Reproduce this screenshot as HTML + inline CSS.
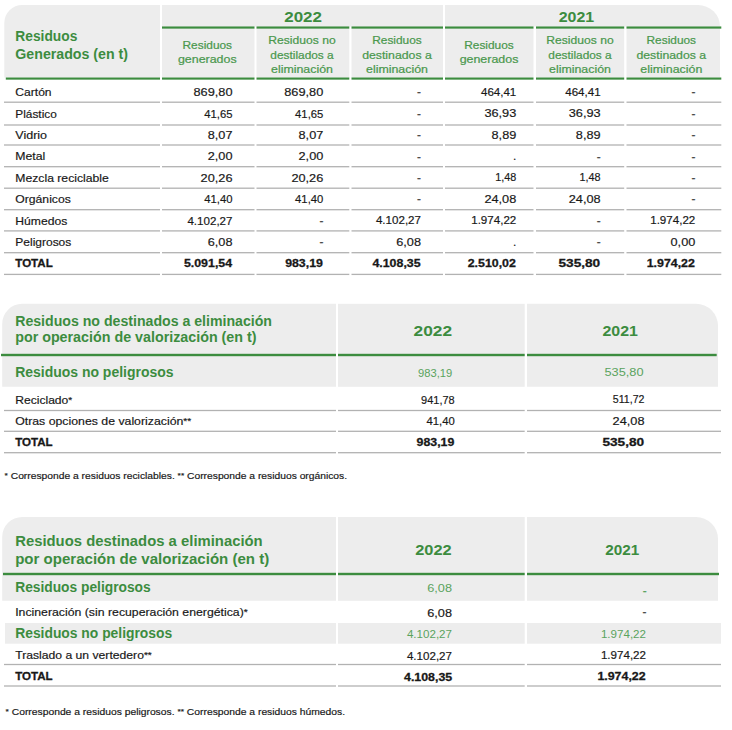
<!DOCTYPE html>
<html lang="es">
<head>
<meta charset="utf-8">
<title>Residuos generados</title>
<style>
html,body{margin:0;padding:0;background:#fff}
body{width:732px;height:730px;overflow:hidden}
svg{display:block;font-family:"Liberation Sans", Arial, sans-serif}
text{white-space:pre}
</style>
</head>
<body>
<svg width="732" height="730" viewBox="0 0 732 730">
<g role="table" aria-label="Residuos Generados (en t)">
<path d="M4.3 77.6V23A18 18 0 0 1 22.3 5H160V77.6Z" fill="#ededed"/>
<rect x="162" y="5" width="281" height="21.6" fill="#ededed"/>
<path d="M445 26.6V5H698A22 21.6 0 0 1 720 26.6V26.6Z" fill="#ededed"/>
<rect x="162" y="28.5" width="92.5" height="49.1" fill="#ededed"/>
<rect x="256.5" y="28.5" width="92.8" height="49.1" fill="#ededed"/>
<rect x="351.5" y="28.5" width="91.5" height="49.1" fill="#ededed"/>
<rect x="445" y="28.5" width="88.5" height="49.1" fill="#ededed"/>
<rect x="536" y="28.5" width="88.2" height="49.1" fill="#ededed"/>
<rect x="626.5" y="28.5" width="93.5" height="49.1" fill="#ededed"/>
<rect x="5.8" y="77.5" width="154.2" height="2.15" fill="#3c8c3f"/>
<rect x="162" y="26.45" width="92.5" height="2.2" fill="#3c8c3f"/>
<rect x="162" y="77.5" width="92.5" height="2.15" fill="#3c8c3f"/>
<rect x="256.5" y="26.45" width="92.8" height="2.2" fill="#3c8c3f"/>
<rect x="256.5" y="77.5" width="92.8" height="2.15" fill="#3c8c3f"/>
<rect x="351.5" y="26.45" width="91.5" height="2.2" fill="#3c8c3f"/>
<rect x="351.5" y="77.5" width="91.5" height="2.15" fill="#3c8c3f"/>
<rect x="445" y="26.45" width="88.5" height="2.2" fill="#3c8c3f"/>
<rect x="445" y="77.5" width="88.5" height="2.15" fill="#3c8c3f"/>
<rect x="536" y="26.45" width="88.2" height="2.2" fill="#3c8c3f"/>
<rect x="536" y="77.5" width="88.2" height="2.15" fill="#3c8c3f"/>
<rect x="626.5" y="26.45" width="94.8" height="2.2" fill="#3c8c3f"/>
<rect x="626.5" y="77.5" width="94.8" height="2.15" fill="#3c8c3f"/>
<text x="15.3" y="40.8" font-size="14" fill="#3c8c3f" font-weight="700" textLength="62" lengthAdjust="spacingAndGlyphs">Residuos</text>
<text x="15.3" y="59.2" font-size="14" fill="#3c8c3f" font-weight="700" textLength="112.7" lengthAdjust="spacingAndGlyphs">Generados (en t)</text>
<text x="303.1" y="21.8" font-size="15.5" fill="#3c8c3f" text-anchor="middle" font-weight="700" textLength="37.8" lengthAdjust="spacingAndGlyphs">2022</text>
<text x="576.4" y="21.8" font-size="15.5" fill="#3c8c3f" text-anchor="middle" font-weight="700" textLength="35.5" lengthAdjust="spacingAndGlyphs">2021</text>
<text x="207.3" y="49.4" font-size="11.2" fill="#4a984d" stroke="#4a984d" stroke-width="0.22" text-anchor="middle" textLength="49.5" lengthAdjust="spacingAndGlyphs">Residuos</text>
<text x="207.3" y="63.4" font-size="11.2" fill="#4a984d" stroke="#4a984d" stroke-width="0.22" text-anchor="middle" textLength="58.7" lengthAdjust="spacingAndGlyphs">generados</text>
<text x="302" y="44.3" font-size="11.2" fill="#4a984d" stroke="#4a984d" stroke-width="0.22" text-anchor="middle" textLength="67.3" lengthAdjust="spacingAndGlyphs">Residuos no</text>
<text x="302" y="58.7" font-size="11.2" fill="#4a984d" stroke="#4a984d" stroke-width="0.22" text-anchor="middle" textLength="63.4" lengthAdjust="spacingAndGlyphs">destilados a</text>
<text x="302" y="72.9" font-size="11.2" fill="#4a984d" stroke="#4a984d" stroke-width="0.22" text-anchor="middle" textLength="62" lengthAdjust="spacingAndGlyphs">eliminación</text>
<text x="397" y="44.3" font-size="11.2" fill="#4a984d" stroke="#4a984d" stroke-width="0.22" text-anchor="middle" textLength="49.5" lengthAdjust="spacingAndGlyphs">Residuos</text>
<text x="397" y="58.7" font-size="11.2" fill="#4a984d" stroke="#4a984d" stroke-width="0.22" text-anchor="middle" textLength="69.7" lengthAdjust="spacingAndGlyphs">destinados a</text>
<text x="397" y="72.9" font-size="11.2" fill="#4a984d" stroke="#4a984d" stroke-width="0.22" text-anchor="middle" textLength="62" lengthAdjust="spacingAndGlyphs">eliminación</text>
<text x="489" y="49.4" font-size="11.2" fill="#4a984d" stroke="#4a984d" stroke-width="0.22" text-anchor="middle" textLength="49.5" lengthAdjust="spacingAndGlyphs">Residuos</text>
<text x="489" y="63.4" font-size="11.2" fill="#4a984d" stroke="#4a984d" stroke-width="0.22" text-anchor="middle" textLength="58.7" lengthAdjust="spacingAndGlyphs">generados</text>
<text x="580" y="44.3" font-size="11.2" fill="#4a984d" stroke="#4a984d" stroke-width="0.22" text-anchor="middle" textLength="67.3" lengthAdjust="spacingAndGlyphs">Residuos no</text>
<text x="580" y="58.7" font-size="11.2" fill="#4a984d" stroke="#4a984d" stroke-width="0.22" text-anchor="middle" textLength="63.4" lengthAdjust="spacingAndGlyphs">destilados a</text>
<text x="580" y="72.9" font-size="11.2" fill="#4a984d" stroke="#4a984d" stroke-width="0.22" text-anchor="middle" textLength="62" lengthAdjust="spacingAndGlyphs">eliminación</text>
<text x="671.3" y="44.3" font-size="11.2" fill="#4a984d" stroke="#4a984d" stroke-width="0.22" text-anchor="middle" textLength="49.5" lengthAdjust="spacingAndGlyphs">Residuos</text>
<text x="671.3" y="58.7" font-size="11.2" fill="#4a984d" stroke="#4a984d" stroke-width="0.22" text-anchor="middle" textLength="69.7" lengthAdjust="spacingAndGlyphs">destinados a</text>
<text x="671.3" y="72.9" font-size="11.2" fill="#4a984d" stroke="#4a984d" stroke-width="0.22" text-anchor="middle" textLength="62" lengthAdjust="spacingAndGlyphs">eliminación</text>
<g role="row">
<text x="15.3" y="96" font-size="11.6" fill="#181818" stroke="#181818" stroke-width="0.18" textLength="36.3" lengthAdjust="spacingAndGlyphs">Cartón</text>
<text x="232.5" y="96" font-size="11.6" fill="#181818" stroke="#181818" stroke-width="0.18" text-anchor="end" textLength="39.02" lengthAdjust="spacingAndGlyphs">869,80</text>
<text x="323.3" y="96" font-size="11.6" fill="#181818" stroke="#181818" stroke-width="0.18" text-anchor="end" textLength="39.02" lengthAdjust="spacingAndGlyphs">869,80</text>
<text x="421" y="96.4" font-size="12" fill="#4a4a4a" stroke="#4a4a4a" stroke-width="0.25" text-anchor="end" textLength="3.9" lengthAdjust="spacingAndGlyphs">-</text>
<text x="516.3" y="95.8" font-size="11.6" fill="#181818" stroke="#181818" stroke-width="0.18" text-anchor="end" textLength="35.33" lengthAdjust="spacingAndGlyphs">464,41</text>
<text x="600.6" y="95.8" font-size="11.6" fill="#181818" stroke="#181818" stroke-width="0.18" text-anchor="end" textLength="35.33" lengthAdjust="spacingAndGlyphs">464,41</text>
<text x="695.3" y="96.4" font-size="12" fill="#4a4a4a" stroke="#4a4a4a" stroke-width="0.25" text-anchor="end" textLength="3.9" lengthAdjust="spacingAndGlyphs">-</text>
<rect x="4" y="101.55" width="156" height="1.3" fill="#b2b2b2"/>
<rect x="162" y="101.55" width="92.5" height="1.3" fill="#b2b2b2"/>
<rect x="256.5" y="101.55" width="92.8" height="1.3" fill="#b2b2b2"/>
<rect x="351.5" y="101.55" width="91.5" height="1.3" fill="#b2b2b2"/>
<rect x="445" y="101.55" width="88.5" height="1.3" fill="#b2b2b2"/>
<rect x="536" y="101.55" width="88.2" height="1.3" fill="#b2b2b2"/>
<rect x="626.5" y="101.55" width="94.8" height="1.3" fill="#b2b2b2"/>
</g>
<g role="row">
<text x="15.3" y="117.6" font-size="11.6" fill="#181818" stroke="#181818" stroke-width="0.18" textLength="41.5" lengthAdjust="spacingAndGlyphs">Plástico</text>
<text x="232.5" y="117.6" font-size="11.6" fill="#181818" stroke="#181818" stroke-width="0.18" text-anchor="end" textLength="28.19" lengthAdjust="spacingAndGlyphs">41,65</text>
<text x="323.3" y="117.6" font-size="11.6" fill="#181818" stroke="#181818" stroke-width="0.18" text-anchor="end" textLength="28.19" lengthAdjust="spacingAndGlyphs">41,65</text>
<text x="421" y="117.8" font-size="12" fill="#4a4a4a" stroke="#4a4a4a" stroke-width="0.25" text-anchor="end" textLength="3.9" lengthAdjust="spacingAndGlyphs">-</text>
<text x="516.3" y="117.2" font-size="11.6" fill="#181818" stroke="#181818" stroke-width="0.18" text-anchor="end" textLength="31.88" lengthAdjust="spacingAndGlyphs">36,93</text>
<text x="600.6" y="117.2" font-size="11.6" fill="#181818" stroke="#181818" stroke-width="0.18" text-anchor="end" textLength="31.88" lengthAdjust="spacingAndGlyphs">36,93</text>
<text x="695.3" y="117.8" font-size="12" fill="#4a4a4a" stroke="#4a4a4a" stroke-width="0.25" text-anchor="end" textLength="3.9" lengthAdjust="spacingAndGlyphs">-</text>
<rect x="4" y="124.35" width="156" height="1.3" fill="#b2b2b2"/>
<rect x="162" y="124.35" width="92.5" height="1.3" fill="#b2b2b2"/>
<rect x="256.5" y="124.35" width="92.8" height="1.3" fill="#b2b2b2"/>
<rect x="351.5" y="124.35" width="91.5" height="1.3" fill="#b2b2b2"/>
<rect x="445" y="124.35" width="88.5" height="1.3" fill="#b2b2b2"/>
<rect x="536" y="124.35" width="88.2" height="1.3" fill="#b2b2b2"/>
<rect x="626.5" y="124.35" width="94.8" height="1.3" fill="#b2b2b2"/>
</g>
<g role="row">
<text x="15.3" y="138.8" font-size="11.6" fill="#181818" stroke="#181818" stroke-width="0.18" textLength="31.8" lengthAdjust="spacingAndGlyphs">Vidrio</text>
<text x="232.5" y="138.8" font-size="11.6" fill="#181818" stroke="#181818" stroke-width="0.18" text-anchor="end" textLength="24.74" lengthAdjust="spacingAndGlyphs">8,07</text>
<text x="323.3" y="138.8" font-size="11.6" fill="#181818" stroke="#181818" stroke-width="0.18" text-anchor="end" textLength="24.74" lengthAdjust="spacingAndGlyphs">8,07</text>
<text x="421" y="139.2" font-size="12" fill="#4a4a4a" stroke="#4a4a4a" stroke-width="0.25" text-anchor="end" textLength="3.9" lengthAdjust="spacingAndGlyphs">-</text>
<text x="516.3" y="138.6" font-size="11.6" fill="#181818" stroke="#181818" stroke-width="0.18" text-anchor="end" textLength="24.74" lengthAdjust="spacingAndGlyphs">8,89</text>
<text x="600.6" y="138.6" font-size="11.6" fill="#181818" stroke="#181818" stroke-width="0.18" text-anchor="end" textLength="24.74" lengthAdjust="spacingAndGlyphs">8,89</text>
<text x="695.3" y="139.2" font-size="12" fill="#4a4a4a" stroke="#4a4a4a" stroke-width="0.25" text-anchor="end" textLength="3.9" lengthAdjust="spacingAndGlyphs">-</text>
<rect x="4" y="144.35" width="156" height="1.3" fill="#b2b2b2"/>
<rect x="162" y="144.35" width="92.5" height="1.3" fill="#b2b2b2"/>
<rect x="256.5" y="144.35" width="92.8" height="1.3" fill="#b2b2b2"/>
<rect x="351.5" y="144.35" width="91.5" height="1.3" fill="#b2b2b2"/>
<rect x="445" y="144.35" width="88.5" height="1.3" fill="#b2b2b2"/>
<rect x="536" y="144.35" width="88.2" height="1.3" fill="#b2b2b2"/>
<rect x="626.5" y="144.35" width="94.8" height="1.3" fill="#b2b2b2"/>
</g>
<g role="row">
<text x="15.3" y="160.2" font-size="11.6" fill="#181818" stroke="#181818" stroke-width="0.18" textLength="30" lengthAdjust="spacingAndGlyphs">Metal</text>
<text x="232.5" y="160.2" font-size="11.6" fill="#181818" stroke="#181818" stroke-width="0.18" text-anchor="end" textLength="24.74" lengthAdjust="spacingAndGlyphs">2,00</text>
<text x="323.3" y="160.2" font-size="11.6" fill="#181818" stroke="#181818" stroke-width="0.18" text-anchor="end" textLength="24.74" lengthAdjust="spacingAndGlyphs">2,00</text>
<text x="421" y="160.6" font-size="12" fill="#4a4a4a" stroke="#4a4a4a" stroke-width="0.25" text-anchor="end" textLength="3.9" lengthAdjust="spacingAndGlyphs">-</text>
<text x="516.3" y="160" font-size="11.6" fill="#181818" stroke="#181818" stroke-width="0.18" text-anchor="end" textLength="3.32" lengthAdjust="spacingAndGlyphs">.</text>
<text x="600.6" y="160.6" font-size="12" fill="#4a4a4a" stroke="#4a4a4a" stroke-width="0.25" text-anchor="end" textLength="3.9" lengthAdjust="spacingAndGlyphs">-</text>
<text x="695.3" y="160.6" font-size="12" fill="#4a4a4a" stroke="#4a4a4a" stroke-width="0.25" text-anchor="end" textLength="3.9" lengthAdjust="spacingAndGlyphs">-</text>
<rect x="4" y="166.05" width="156" height="1.3" fill="#b2b2b2"/>
<rect x="162" y="166.05" width="92.5" height="1.3" fill="#b2b2b2"/>
<rect x="256.5" y="166.05" width="92.8" height="1.3" fill="#b2b2b2"/>
<rect x="351.5" y="166.05" width="91.5" height="1.3" fill="#b2b2b2"/>
<rect x="445" y="166.05" width="88.5" height="1.3" fill="#b2b2b2"/>
<rect x="536" y="166.05" width="88.2" height="1.3" fill="#b2b2b2"/>
<rect x="626.5" y="166.05" width="94.8" height="1.3" fill="#b2b2b2"/>
</g>
<g role="row">
<text x="15.3" y="181.7" font-size="11.6" fill="#181818" stroke="#181818" stroke-width="0.18" textLength="93.5" lengthAdjust="spacingAndGlyphs">Mezcla reciclable</text>
<text x="232.5" y="181.7" font-size="11.6" fill="#181818" stroke="#181818" stroke-width="0.18" text-anchor="end" textLength="31.88" lengthAdjust="spacingAndGlyphs">20,26</text>
<text x="323.3" y="181.7" font-size="11.6" fill="#181818" stroke="#181818" stroke-width="0.18" text-anchor="end" textLength="31.88" lengthAdjust="spacingAndGlyphs">20,26</text>
<text x="421" y="182" font-size="12" fill="#4a4a4a" stroke="#4a4a4a" stroke-width="0.25" text-anchor="end" textLength="3.9" lengthAdjust="spacingAndGlyphs">-</text>
<text x="516.3" y="181.4" font-size="11.6" fill="#181818" stroke="#181818" stroke-width="0.18" text-anchor="end" textLength="21.05" lengthAdjust="spacingAndGlyphs">1,48</text>
<text x="600.6" y="181.4" font-size="11.6" fill="#181818" stroke="#181818" stroke-width="0.18" text-anchor="end" textLength="21.05" lengthAdjust="spacingAndGlyphs">1,48</text>
<text x="695.3" y="182" font-size="12" fill="#4a4a4a" stroke="#4a4a4a" stroke-width="0.25" text-anchor="end" textLength="3.9" lengthAdjust="spacingAndGlyphs">-</text>
<rect x="4" y="187.55" width="156" height="1.3" fill="#b2b2b2"/>
<rect x="162" y="187.55" width="92.5" height="1.3" fill="#b2b2b2"/>
<rect x="256.5" y="187.55" width="92.8" height="1.3" fill="#b2b2b2"/>
<rect x="351.5" y="187.55" width="91.5" height="1.3" fill="#b2b2b2"/>
<rect x="445" y="187.55" width="88.5" height="1.3" fill="#b2b2b2"/>
<rect x="536" y="187.55" width="88.2" height="1.3" fill="#b2b2b2"/>
<rect x="626.5" y="187.55" width="94.8" height="1.3" fill="#b2b2b2"/>
</g>
<g role="row">
<text x="15.3" y="203.2" font-size="11.6" fill="#181818" stroke="#181818" stroke-width="0.18" textLength="55.5" lengthAdjust="spacingAndGlyphs">Orgánicos</text>
<text x="232.5" y="203.2" font-size="11.6" fill="#181818" stroke="#181818" stroke-width="0.18" text-anchor="end" textLength="28.19" lengthAdjust="spacingAndGlyphs">41,40</text>
<text x="323.3" y="203.2" font-size="11.6" fill="#181818" stroke="#181818" stroke-width="0.18" text-anchor="end" textLength="28.19" lengthAdjust="spacingAndGlyphs">41,40</text>
<text x="421" y="203.4" font-size="12" fill="#4a4a4a" stroke="#4a4a4a" stroke-width="0.25" text-anchor="end" textLength="3.9" lengthAdjust="spacingAndGlyphs">-</text>
<text x="516.3" y="202.8" font-size="11.6" fill="#181818" stroke="#181818" stroke-width="0.18" text-anchor="end" textLength="31.88" lengthAdjust="spacingAndGlyphs">24,08</text>
<text x="600.6" y="202.8" font-size="11.6" fill="#181818" stroke="#181818" stroke-width="0.18" text-anchor="end" textLength="31.88" lengthAdjust="spacingAndGlyphs">24,08</text>
<text x="695.3" y="203.4" font-size="12" fill="#4a4a4a" stroke="#4a4a4a" stroke-width="0.25" text-anchor="end" textLength="3.9" lengthAdjust="spacingAndGlyphs">-</text>
<rect x="4" y="209.05" width="156" height="1.3" fill="#b2b2b2"/>
<rect x="162" y="209.05" width="92.5" height="1.3" fill="#b2b2b2"/>
<rect x="256.5" y="209.05" width="92.8" height="1.3" fill="#b2b2b2"/>
<rect x="351.5" y="209.05" width="91.5" height="1.3" fill="#b2b2b2"/>
<rect x="445" y="209.05" width="88.5" height="1.3" fill="#b2b2b2"/>
<rect x="536" y="209.05" width="88.2" height="1.3" fill="#b2b2b2"/>
<rect x="626.5" y="209.05" width="94.8" height="1.3" fill="#b2b2b2"/>
</g>
<g role="row">
<text x="15.3" y="224.6" font-size="11.6" fill="#181818" stroke="#181818" stroke-width="0.18" textLength="52" lengthAdjust="spacingAndGlyphs">Húmedos</text>
<text x="232.5" y="224.6" font-size="11.6" fill="#181818" stroke="#181818" stroke-width="0.18" text-anchor="end" textLength="45.09" lengthAdjust="spacingAndGlyphs">4.102,27</text>
<text x="323.3" y="225.2" font-size="12" fill="#4a4a4a" stroke="#4a4a4a" stroke-width="0.25" text-anchor="end" textLength="3.9" lengthAdjust="spacingAndGlyphs">-</text>
<text x="421" y="224.2" font-size="11.6" fill="#181818" stroke="#181818" stroke-width="0.18" text-anchor="end" textLength="45.09" lengthAdjust="spacingAndGlyphs">4.102,27</text>
<text x="516.3" y="224.2" font-size="11.6" fill="#181818" stroke="#181818" stroke-width="0.18" text-anchor="end" textLength="45.09" lengthAdjust="spacingAndGlyphs">1.974,22</text>
<text x="600.6" y="224.8" font-size="12" fill="#4a4a4a" stroke="#4a4a4a" stroke-width="0.25" text-anchor="end" textLength="3.9" lengthAdjust="spacingAndGlyphs">-</text>
<text x="695.3" y="224.2" font-size="11.6" fill="#181818" stroke="#181818" stroke-width="0.18" text-anchor="end" textLength="45.09" lengthAdjust="spacingAndGlyphs">1.974,22</text>
<rect x="4" y="230.25" width="156" height="1.3" fill="#b2b2b2"/>
<rect x="162" y="230.25" width="92.5" height="1.3" fill="#b2b2b2"/>
<rect x="256.5" y="230.25" width="92.8" height="1.3" fill="#b2b2b2"/>
<rect x="351.5" y="230.25" width="91.5" height="1.3" fill="#b2b2b2"/>
<rect x="445" y="230.25" width="88.5" height="1.3" fill="#b2b2b2"/>
<rect x="536" y="230.25" width="88.2" height="1.3" fill="#b2b2b2"/>
<rect x="626.5" y="230.25" width="94.8" height="1.3" fill="#b2b2b2"/>
</g>
<g role="row">
<text x="15.3" y="245.8" font-size="11.6" fill="#181818" stroke="#181818" stroke-width="0.18" textLength="56" lengthAdjust="spacingAndGlyphs">Peligrosos</text>
<text x="232.5" y="245.8" font-size="11.6" fill="#181818" stroke="#181818" stroke-width="0.18" text-anchor="end" textLength="24.74" lengthAdjust="spacingAndGlyphs">6,08</text>
<text x="323.3" y="246.4" font-size="12" fill="#4a4a4a" stroke="#4a4a4a" stroke-width="0.25" text-anchor="end" textLength="3.9" lengthAdjust="spacingAndGlyphs">-</text>
<text x="421" y="245.6" font-size="11.6" fill="#181818" stroke="#181818" stroke-width="0.18" text-anchor="end" textLength="24.74" lengthAdjust="spacingAndGlyphs">6,08</text>
<text x="516.3" y="245.6" font-size="11.6" fill="#181818" stroke="#181818" stroke-width="0.18" text-anchor="end" textLength="3.32" lengthAdjust="spacingAndGlyphs">.</text>
<text x="600.6" y="246.2" font-size="12" fill="#4a4a4a" stroke="#4a4a4a" stroke-width="0.25" text-anchor="end" textLength="3.9" lengthAdjust="spacingAndGlyphs">-</text>
<text x="695.3" y="245.6" font-size="11.6" fill="#181818" stroke="#181818" stroke-width="0.18" text-anchor="end" textLength="24.74" lengthAdjust="spacingAndGlyphs">0,00</text>
<rect x="4" y="252.05" width="156" height="1.3" fill="#b2b2b2"/>
<rect x="162" y="252.05" width="92.5" height="1.3" fill="#b2b2b2"/>
<rect x="256.5" y="252.05" width="92.8" height="1.3" fill="#b2b2b2"/>
<rect x="351.5" y="252.05" width="91.5" height="1.3" fill="#b2b2b2"/>
<rect x="445" y="252.05" width="88.5" height="1.3" fill="#b2b2b2"/>
<rect x="536" y="252.05" width="88.2" height="1.3" fill="#b2b2b2"/>
<rect x="626.5" y="252.05" width="94.8" height="1.3" fill="#b2b2b2"/>
</g>
<g role="row">
<text x="15.3" y="267.2" font-size="11.6" fill="#181818" stroke="#181818" stroke-width="0.3" font-weight="700" textLength="37.4" lengthAdjust="spacingAndGlyphs">TOTAL</text>
<text x="232.1" y="267.2" font-size="11.6" fill="#181818" stroke="#181818" stroke-width="0.3" text-anchor="end" font-weight="700" textLength="48.19" lengthAdjust="spacingAndGlyphs">5.091,54</text>
<text x="322.9" y="267.2" font-size="11.6" fill="#181818" stroke="#181818" stroke-width="0.3" text-anchor="end" font-weight="700" textLength="37.75" lengthAdjust="spacingAndGlyphs">983,19</text>
<text x="420.6" y="267" font-size="11.6" fill="#181818" stroke="#181818" stroke-width="0.3" text-anchor="end" font-weight="700" textLength="48.19" lengthAdjust="spacingAndGlyphs">4.108,35</text>
<text x="515.9" y="267" font-size="11.6" fill="#181818" stroke="#181818" stroke-width="0.3" text-anchor="end" font-weight="700" textLength="48.19" lengthAdjust="spacingAndGlyphs">2.510,02</text>
<text x="600.2" y="267" font-size="11.6" fill="#181818" stroke="#181818" stroke-width="0.3" text-anchor="end" font-weight="700" textLength="41.7" lengthAdjust="spacingAndGlyphs">535,80</text>
<text x="694.9" y="267" font-size="11.6" fill="#181818" stroke="#181818" stroke-width="0.3" text-anchor="end" font-weight="700" textLength="48.19" lengthAdjust="spacingAndGlyphs">1.974,22</text>
<rect x="4" y="273.75" width="156" height="1.3" fill="#b2b2b2"/>
<rect x="162" y="273.75" width="92.5" height="1.3" fill="#b2b2b2"/>
<rect x="256.5" y="273.75" width="92.8" height="1.3" fill="#b2b2b2"/>
<rect x="351.5" y="273.75" width="91.5" height="1.3" fill="#b2b2b2"/>
<rect x="445" y="273.75" width="88.5" height="1.3" fill="#b2b2b2"/>
<rect x="536" y="273.75" width="88.2" height="1.3" fill="#b2b2b2"/>
<rect x="626.5" y="273.75" width="94.8" height="1.3" fill="#b2b2b2"/>
</g>
</g>
<g role="table" aria-label="Residuos no destinados a eliminación por operación de valorización (en t)">
<path d="M2.2 386.8V323.8A20 20 0 0 1 22.2 303.8H336V386.8Z" fill="#ededed"/>
<rect x="338" y="303.8" width="186.7" height="83" fill="#ededed"/>
<path d="M527 386.8V303.8H696A22 22 0 0 1 718 325.8V386.8Z" fill="#ededed"/>
<rect x="1" y="353.8" width="335" height="2.4" fill="#3c8c3f"/>
<rect x="338" y="353.8" width="186.7" height="2.4" fill="#3c8c3f"/>
<rect x="527" y="353.8" width="189.7" height="2.4" fill="#3c8c3f"/>
<text x="15.2" y="325.9" font-size="14" fill="#3c8c3f" font-weight="700" textLength="256.8" lengthAdjust="spacingAndGlyphs">Residuos no destinados a eliminación</text>
<text x="15.2" y="342.3" font-size="14" fill="#3c8c3f" font-weight="700" textLength="241.3" lengthAdjust="spacingAndGlyphs">por operación de valorización (en t)</text>
<text x="432.8" y="335.9" font-size="15.4" fill="#3c8c3f" text-anchor="middle" font-weight="700" textLength="38.5" lengthAdjust="spacingAndGlyphs">2022</text>
<text x="620.2" y="335.9" font-size="15.4" fill="#3c8c3f" text-anchor="middle" font-weight="700" textLength="35.5" lengthAdjust="spacingAndGlyphs">2021</text>
<text x="15.2" y="376.7" font-size="14" fill="#3c8c3f" font-weight="700" textLength="158.3" lengthAdjust="spacingAndGlyphs">Residuos no peligrosos</text>
<text x="452.2" y="376.5" font-size="11.6" fill="#5aa35d" text-anchor="end" textLength="34.2" lengthAdjust="spacingAndGlyphs">983,19</text>
<text x="643.5" y="376.3" font-size="11.6" fill="#5aa35d" text-anchor="end" textLength="39.02" lengthAdjust="spacingAndGlyphs">535,80</text>
<g role="row">
<text x="15.2" y="403.7" font-size="11.6" fill="#181818" stroke="#181818" stroke-width="0.18" textLength="57" lengthAdjust="spacingAndGlyphs">Reciclado<tspan font-size="9.51" dy="-0.7">*</tspan></text>
<text x="454.7" y="403.7" font-size="11.6" fill="#181818" stroke="#181818" stroke-width="0.18" text-anchor="end" textLength="33.6" lengthAdjust="spacingAndGlyphs">941,78</text>
<text x="644.5" y="403.1" font-size="11.6" fill="#181818" stroke="#181818" stroke-width="0.18" text-anchor="end" textLength="31.64" lengthAdjust="spacingAndGlyphs">511,72</text>
<rect x="4" y="409.85" width="332" height="1.3" fill="#b2b2b2"/>
<rect x="338" y="409.85" width="186.7" height="1.3" fill="#b2b2b2"/>
<rect x="527" y="409.85" width="194" height="1.3" fill="#b2b2b2"/>
</g>
<g role="row">
<text x="15.2" y="424.7" font-size="11.6" fill="#181818" stroke="#181818" stroke-width="0.18" textLength="176" lengthAdjust="spacingAndGlyphs">Otras opciones de valorización<tspan font-size="9.51" dy="-0.7">**</tspan></text>
<text x="454.7" y="424.7" font-size="11.6" fill="#181818" stroke="#181818" stroke-width="0.18" text-anchor="end" textLength="28.19" lengthAdjust="spacingAndGlyphs">41,40</text>
<text x="644.5" y="425.2" font-size="11.6" fill="#181818" stroke="#181818" stroke-width="0.18" text-anchor="end" textLength="31.88" lengthAdjust="spacingAndGlyphs">24,08</text>
<rect x="4" y="430.65" width="332" height="1.3" fill="#b2b2b2"/>
<rect x="338" y="430.65" width="186.7" height="1.3" fill="#b2b2b2"/>
<rect x="527" y="430.65" width="194" height="1.3" fill="#b2b2b2"/>
</g>
<g role="row">
<text x="15.2" y="445.8" font-size="11.6" fill="#181818" stroke="#181818" stroke-width="0.3" font-weight="700" textLength="37.4" lengthAdjust="spacingAndGlyphs">TOTAL</text>
<text x="454.3" y="445.8" font-size="11.6" fill="#181818" stroke="#181818" stroke-width="0.3" text-anchor="end" font-weight="700" textLength="37.75" lengthAdjust="spacingAndGlyphs">983,19</text>
<text x="644.1" y="446.3" font-size="11.6" fill="#181818" stroke="#181818" stroke-width="0.3" text-anchor="end" font-weight="700" textLength="41.7" lengthAdjust="spacingAndGlyphs">535,80</text>
<rect x="4" y="452.05" width="332" height="1.3" fill="#b2b2b2"/>
<rect x="338" y="452.05" width="186.7" height="1.3" fill="#b2b2b2"/>
<rect x="527" y="452.05" width="194" height="1.3" fill="#b2b2b2"/>
</g>
</g>
<text x="4.6" y="478.7" font-size="9.5" fill="#181818" stroke="#181818" stroke-width="0.18" textLength="342.5" lengthAdjust="spacingAndGlyphs"><tspan font-size="7.79" dy="-0.57">*</tspan><tspan dy="0.57"> Corresponde a residuos reciclables. </tspan><tspan font-size="7.79" dy="-0.57">**</tspan><tspan dy="0.57"> Corresponde a residuos orgánicos.</tspan></text>
<g role="table" aria-label="Residuos destinados a eliminación por operación de valorización (en t)">
<path d="M2.2 600.8V537A20 20 0 0 1 22.2 517H336V600.8Z" fill="#ededed"/>
<rect x="338" y="517" width="186.7" height="83.8" fill="#ededed"/>
<path d="M527 600.8V517H696A22 22 0 0 1 718 539V600.8Z" fill="#ededed"/>
<rect x="3" y="572.8" width="333" height="2.4" fill="#3c8c3f"/>
<rect x="5" y="623" width="331" height="20.7" fill="#ededed"/>
<rect x="338" y="572.8" width="186.7" height="2.4" fill="#3c8c3f"/>
<rect x="338" y="623" width="186.7" height="20.7" fill="#ededed"/>
<rect x="527" y="572.8" width="192" height="2.4" fill="#3c8c3f"/>
<rect x="527" y="623" width="194" height="20.7" fill="#ededed"/>
<text x="15.2" y="545.5" font-size="15" fill="#3c8c3f" font-weight="700" textLength="247.5" lengthAdjust="spacingAndGlyphs">Residuos destinados a eliminación</text>
<text x="15.2" y="563.7" font-size="15" fill="#3c8c3f" font-weight="700" textLength="254" lengthAdjust="spacingAndGlyphs">por operación de valorización (en t)</text>
<text x="433.5" y="554.8" font-size="15.4" fill="#3c8c3f" text-anchor="middle" font-weight="700" textLength="36.5" lengthAdjust="spacingAndGlyphs">2022</text>
<text x="622.2" y="554.8" font-size="15.4" fill="#3c8c3f" text-anchor="middle" font-weight="700" textLength="34" lengthAdjust="spacingAndGlyphs">2021</text>
<text x="15.2" y="591.7" font-size="14" fill="#3c8c3f" font-weight="700" textLength="135.5" lengthAdjust="spacingAndGlyphs">Residuos peligrosos</text>
<text x="452" y="591.5" font-size="11.6" fill="#5aa35d" text-anchor="end" textLength="24.74" lengthAdjust="spacingAndGlyphs">6,08</text>
<text x="646.7" y="595" font-size="12" fill="#5aa35d" stroke="#5aa35d" stroke-width="0.25" text-anchor="end" textLength="3.9" lengthAdjust="spacingAndGlyphs">-</text>
<text x="15.2" y="615.8" font-size="11.6" fill="#181818" stroke="#181818" stroke-width="0.18" textLength="232.5" lengthAdjust="spacingAndGlyphs">Incineración (sin recuperación energética)<tspan font-size="9.51" dy="-0.7">*</tspan></text>
<text x="452" y="616.7" font-size="11.6" fill="#181818" stroke="#181818" stroke-width="0.18" text-anchor="end" textLength="24.74" lengthAdjust="spacingAndGlyphs">6,08</text>
<text x="646.5" y="616.1" font-size="12" fill="#4a4a4a" stroke="#4a4a4a" stroke-width="0.25" text-anchor="end" textLength="3.9" lengthAdjust="spacingAndGlyphs">-</text>
<text x="15.2" y="637.5" font-size="14" fill="#3c8c3f" font-weight="700" textLength="157" lengthAdjust="spacingAndGlyphs">Residuos no peligrosos</text>
<text x="452" y="637.5" font-size="11.6" fill="#5aa35d" text-anchor="end" textLength="45.09" lengthAdjust="spacingAndGlyphs">4.102,27</text>
<text x="646" y="637.5" font-size="11.6" fill="#5aa35d" text-anchor="end" textLength="45.09" lengthAdjust="spacingAndGlyphs">1.974,22</text>
<text x="15.2" y="658.8" font-size="11.6" fill="#181818" stroke="#181818" stroke-width="0.18" textLength="136.5" lengthAdjust="spacingAndGlyphs">Traslado a un vertedero<tspan font-size="9.51" dy="-0.7">**</tspan></text>
<text x="452" y="659.5" font-size="11.6" fill="#181818" stroke="#181818" stroke-width="0.18" text-anchor="end" textLength="45.09" lengthAdjust="spacingAndGlyphs">4.102,27</text>
<text x="646" y="658.8" font-size="11.6" fill="#181818" stroke="#181818" stroke-width="0.18" text-anchor="end" textLength="45.09" lengthAdjust="spacingAndGlyphs">1.974,22</text>
<text x="15.2" y="679.7" font-size="11.6" fill="#181818" stroke="#181818" stroke-width="0.3" font-weight="700" textLength="37.4" lengthAdjust="spacingAndGlyphs">TOTAL</text>
<text x="452.2" y="680.5" font-size="11.6" fill="#181818" stroke="#181818" stroke-width="0.3" text-anchor="end" font-weight="700" textLength="48.19" lengthAdjust="spacingAndGlyphs">4.108,35</text>
<text x="645.6" y="679.7" font-size="11.6" fill="#181818" stroke="#181818" stroke-width="0.3" text-anchor="end" font-weight="700" textLength="48.19" lengthAdjust="spacingAndGlyphs">1.974,22</text>
<rect x="4" y="663.85" width="332" height="1.3" fill="#b2b2b2"/>
<rect x="338" y="663.85" width="186.7" height="1.3" fill="#b2b2b2"/>
<rect x="527" y="663.85" width="194" height="1.3" fill="#b2b2b2"/>
<rect x="4" y="685.35" width="332" height="1.3" fill="#b2b2b2"/>
<rect x="338" y="685.35" width="186.7" height="1.3" fill="#b2b2b2"/>
<rect x="527" y="685.35" width="194" height="1.3" fill="#b2b2b2"/>
</g>
<text x="5.6" y="715" font-size="9.5" fill="#181818" stroke="#181818" stroke-width="0.18" textLength="339.5" lengthAdjust="spacingAndGlyphs"><tspan font-size="7.79" dy="-0.57">*</tspan><tspan dy="0.57"> Corresponde a residuos peligrosos. </tspan><tspan font-size="7.79" dy="-0.57">**</tspan><tspan dy="0.57"> Corresponde a residuos húmedos.</tspan></text>
</svg>
</body>
</html>
